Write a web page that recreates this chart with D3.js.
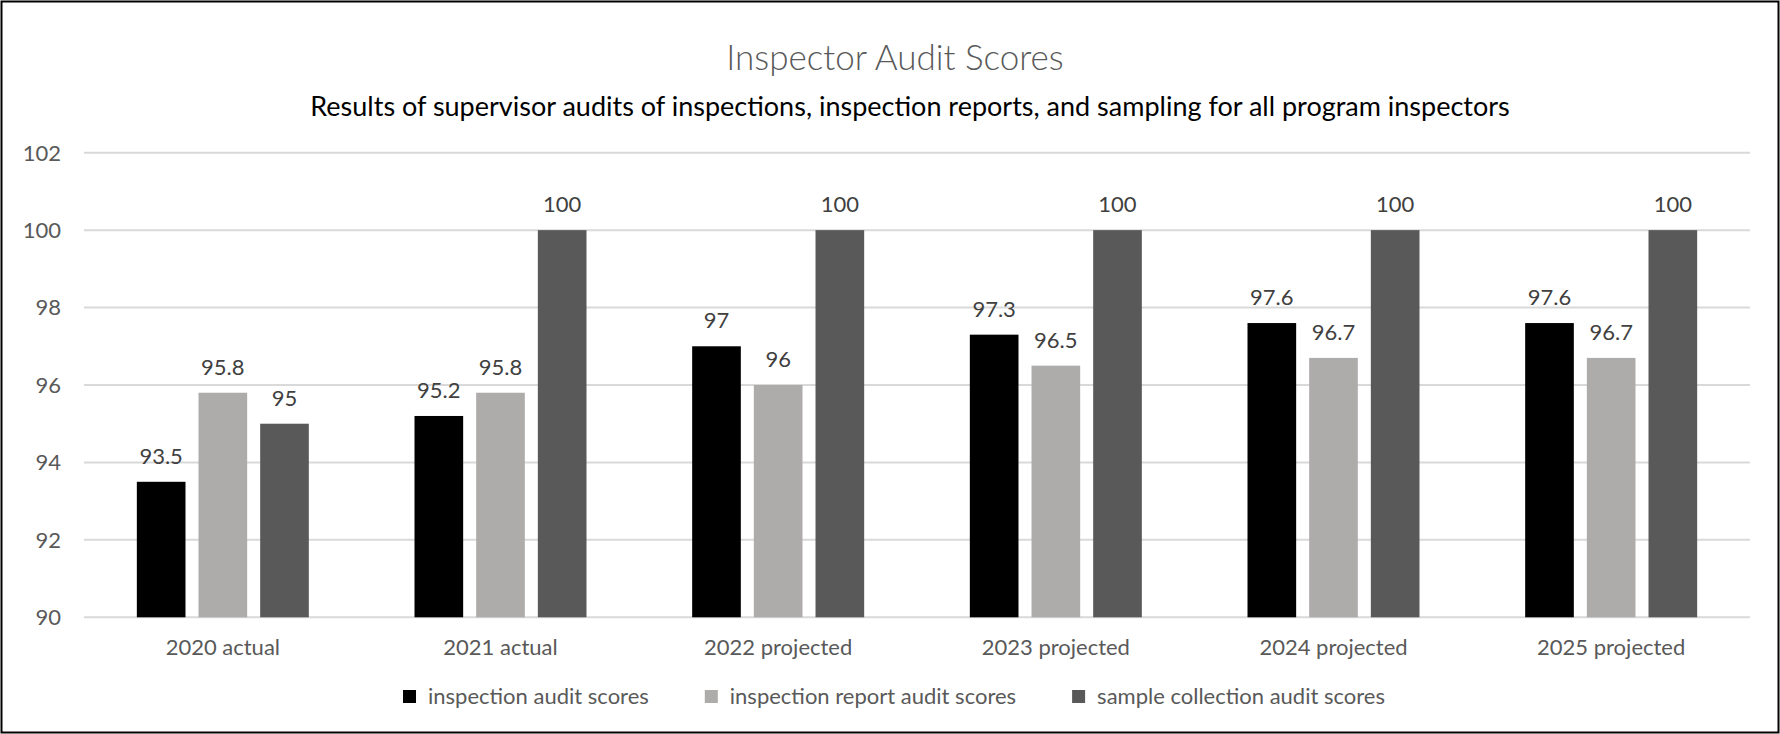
<!DOCTYPE html>
<html>
<head>
<meta charset="utf-8">
<script src="https://d3js.org/d3.v7.min.js"></script>
<style>
  body { margin: 0; background: #fff; }
  svg { display: block; font-family: Lato, "Open Sans", sans-serif; }
</style>
</head>
<body>
<svg id="chart"></svg>
<script>
var categories = ["2020 actual", "2021 actual", "2022 projected", "2023 projected", "2024 projected", "2025 projected"];
var seriesNames = ["inspection audit scores", "inspection report audit scores", "sample collection audit scores"];
var inspectionScores = [93.5, 95.2, 97, 97.3, 97.6, 97.6];
var reportScores = [95.8, 95.8, 96, 96.5, 96.7, 96.7];
var sampleScores = [95, 100, 100, 100, 100, 100];
var yTicks = [90, 92, 94, 96, 98, 100, 102];

document.addEventListener("DOMContentLoaded", function() {
  drawBarChart();
});

function drawBarChart(){

  var svgWidth = 1780, svgHeight = 734;
  var margin = { top: 152.7, right: 30, bottom: 734 - 617.3, left: 84 };
  var svg = d3.select('#chart')
    .attr("width", svgWidth)
    .attr("height", svgHeight);

  //outer border
  svg.append('rect')
    .attr('x', 1.5).attr('y', 1.5)
    .attr('width', svgWidth - 3).attr('height', svgHeight - 3)
    .attr('fill', 'none')
    .attr('stroke', '#000')
    .attr('stroke-width', 2);

  var seriesValues = [inspectionScores, reportScores, sampleScores];
  var colors = ['#000000', '#aeabab', '#595959'];

  var x0 = d3.scaleBand()
    .domain(categories)
    .range([margin.left, 1750])
    .padding(0);

  var groupWidth = 172;
  var x1 = d3.scaleBand()
    .domain(seriesNames)
    .range([0, groupWidth])
    .paddingInner(0.211);

  var y = d3.scaleLinear()
    .domain([90, 102])
    .range([svgHeight - margin.bottom, margin.top]);

  //gridlines
  svg.append('g')
    .selectAll('line')
    .data(yTicks)
    .enter()
    .append('line')
    .attr('x1', margin.left)
    .attr('x2', 1750)
    .attr('y1', d => y(d))
    .attr('y2', d => y(d))
    .attr('stroke', '#d9d9d9')
    .attr('stroke-width', 2);

  //y labels
  svg.append('g')
    .selectAll('text')
    .data(yTicks)
    .enter()
    .append('text')
    .attr('x', 61)
    .attr('y', d => y(d))
    .attr('dy', '0.36em')
    .attr('text-anchor', 'end')
    .attr('font-size', 22)
    .attr('fill', '#595959')
    .text(d => d);

  //bars
  var rows = categories.map((c, i) => ({
    category: c,
    values: seriesNames.map((s, j) => ({ series: s, index: j, value: seriesValues[j][i] }))
  }));

  var groups = svg.append('g')
    .selectAll('g')
    .data(rows)
    .enter()
    .append('g')
    .attr('transform', d => `translate(${x0(d.category) + (x0.bandwidth() - groupWidth) / 2}, 0)`);

  groups.selectAll('rect')
    .data(d => d.values)
    .enter()
    .append('rect')
    .attr('x', d => x1(d.series))
    .attr('y', d => y(d.value))
    .attr('width', x1.bandwidth())
    .attr('height', d => y(90) - y(d.value))
    .attr('fill', d => colors[d.index]);

  groups.selectAll('text')
    .data(d => d.values)
    .enter()
    .append('text')
    .attr('x', d => x1(d.series) + x1.bandwidth() / 2)
    .attr('y', d => y(d.value) - 18)
    .attr('text-anchor', 'middle')
    .attr('font-size', 22)
    .attr('fill', '#404040')
    .text(d => d.value);

  //category labels
  svg.append('g')
    .selectAll('text')
    .data(categories)
    .enter()
    .append('text')
    .attr('x', d => x0(d) + x0.bandwidth() / 2)
    .attr('y', 655)
    .attr('text-anchor', 'middle')
    .attr('font-size', 22)
    .attr('fill', '#595959')
    .text(d => d);

  //titles
  svg.append('text')
    .attr('x', 895)
    .attr('y', 70)
    .attr('text-anchor', 'middle')
    .attr('font-size', 35)
    .attr('font-weight', 300)
    .attr('fill', '#595959')
    .text('Inspector Audit Scores');

  svg.append('text')
    .attr('x', 910)
    .attr('y', 116)
    .attr('text-anchor', 'middle')
    .attr('font-size', 27)
    .attr('fill', '#000')
    .text('Results of supervisor audits of inspections, inspection reports, and sampling for all program inspectors');

  //legend
  var legend = svg.append('g');
  var items = legend.selectAll('g')
    .data(seriesNames)
    .enter()
    .append('g');

  items.append('rect')
    .attr('y', 690)
    .attr('width', 13)
    .attr('height', 13)
    .attr('fill', (d, i) => colors[i]);

  items.append('text')
    .attr('x', 25)
    .attr('y', 704)
    .attr('font-size', 22)
    .attr('fill', '#595959')
    .text(d => d);

  var offset = 0;
  items.each(function() {
    var g = d3.select(this);
    g.attr('transform', `translate(${offset}, 0)`);
    offset += 25 + g.select('text').node().getComputedTextLength() + 56;
  });
  var total = offset - 56;
  legend.attr('transform', `translate(${894 - total / 2}, 0)`);
}
</script>
</body>
</html>
